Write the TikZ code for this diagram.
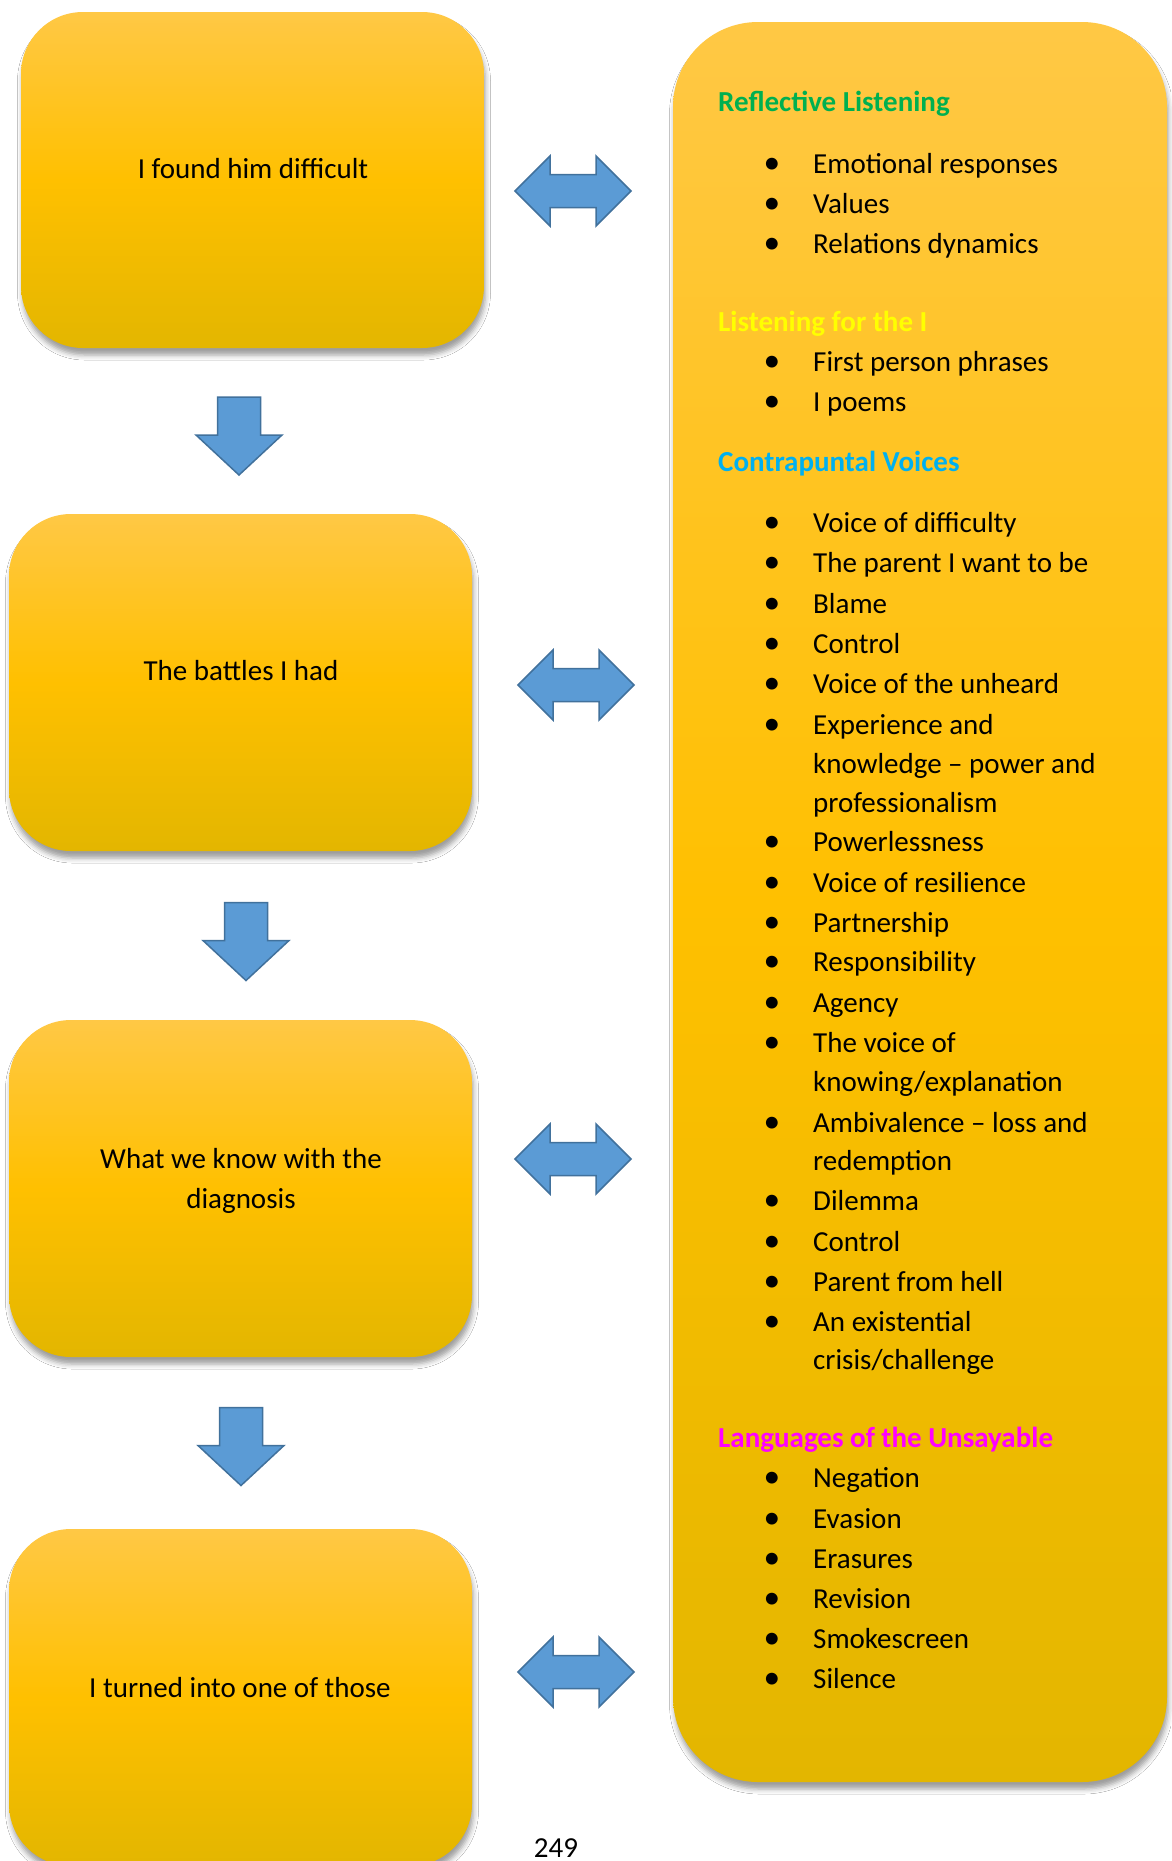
\documentclass[tikz,border=0pt]{standalone}
\usepackage{fontspec}
\setmainfont{Carlito}
\usetikzlibrary{shadows.blur}
\definecolor{goldtop}{HTML}{FFC845}
\definecolor{goldmid}{HTML}{FFC000}
\definecolor{goldbot}{HTML}{E3B600}
\definecolor{arrfill}{HTML}{5B9BD5}
\definecolor{arrline}{HTML}{41719C}
\definecolor{hgreen}{HTML}{00B050}
\definecolor{hyellow}{HTML}{FFFF00}
\definecolor{hcyan}{HTML}{00B0F0}
\definecolor{hmagenta}{HTML}{FF00FF}
\newcommand\rbul[3]{\node[bdot] (d#1) at (772,#2) {\textbullet};\node[itm] (t#1) at (813,#2) {#3};}
\newcommand\rcont[3]{\node[itm] (t#1) at (813,#2) {#3};}
\begin{document}
\begin{tikzpicture}[x=1pt,y=-1pt,
  goldbox/.style={rectangle, rounded corners=62pt, draw=none, inner sep=0pt,
    top color=goldtop, bottom color=goldbot, middle color=goldmid,
    blur shadow={shadow xshift=1.5pt, shadow yshift=-7pt, shadow blur radius=5pt, shadow opacity=38}},
  bigbox/.style={goldbox, rounded corners=85pt},
  blockarr/.style={fill=arrfill, draw=arrline, line width=1.5pt, line join=miter},
  lbl/.style={font=\fontsize{29}{40}\selectfont, align=center, inner sep=0pt, anchor=base},
  itm/.style={font=\fontsize{29}{35}\selectfont, inner sep=0pt, anchor=base west},
  hdr/.style={itm, font=\fontsize{29}{35}\selectfont\bfseries},
  bdot/.style={font=\fontsize{29}{35}\selectfont, inner sep=0pt, anchor=base, scale=1.15},
  downarr/.pic={\path[blockarr] (-21.5,-39) -- (21.5,-39) -- (21.5,-1) -- (43,-1) -- (0,39) -- (-43,-1) -- (-21.5,-1) -- cycle;},
  dblarr/.pic={\path[blockarr] (-58,0) -- (-23,-35) -- (-23,-16.5) -- (23,-16.5) -- (23,-35) -- (58,0) -- (23,35) -- (23,16.5) -- (-23,16.5) -- (-23,35) -- cycle;}
]
\useasboundingbox[fill=white] (0,0) rectangle (1171,1861);

% left boxes
\node[goldbox, minimum width=463pt, minimum height=336pt] (b1) at (252.5,180) {};
\node[goldbox, minimum width=463pt, minimum height=337pt] (b2) at (240.5,682.5) {};
\node[goldbox, minimum width=463pt, minimum height=337pt] (b3) at (240.5,1188.5) {};
\node[goldbox, minimum width=463pt, minimum height=337pt] (b4) at (240.5,1697.5) {};
\node[lbl] (l1) at (253,178) {I found him difficult};
\node[lbl] (l2) at (241,680) {The battles I had};
\node[lbl] (l3) at (241,1208) {What we know with the\\diagnosis};
\node[lbl] (l4) at (240,1697) {I turned into one of those};

% right box
\node[bigbox, minimum width=494pt, minimum height=1760pt] (rb) at (920,902) {};

% arrows
\pic (a1) at (239,436) {downarr};
\pic (a2) at (246,941.5) {downarr};
\pic (a3) at (241,1446.5) {downarr};
\pic (d1) at (573,191) {dblarr};
\pic (d2) at (576,685) {dblarr};
\pic (d3) at (573,1159) {dblarr};
\pic (d4) at (576,1672) {dblarr};

% right text
\node[hdr, text=hgreen] (h1) at (718,111) {Reflective Listening};
\rbul{1}{173}{Emotional responses}
\rbul{2}{213}{Values}
\rbul{3}{253}{Relations dynamics}
\node[hdr, text=hyellow] (h2) at (718,331) {Listening for the I};
\rbul{4}{371}{First person phrases}
\rbul{5}{411}{I poems}
\node[hdr, text=hcyan] (h3) at (718,471) {Contrapuntal Voices};
\rbul{6}{532}{Voice of difficulty}
\rbul{7}{572}{The parent I want to be}
\rbul{8}{613}{Blame}
\rbul{9}{653}{Control}
\rbul{10}{693}{Voice of the unheard}
\rbul{11}{734}{Experience and}
\rcont{12}{773}{knowledge – power and}
\rcont{13}{812}{professionalism}
\rbul{14}{851}{Powerlessness}
\rbul{15}{892}{Voice of resilience}
\rbul{16}{932}{Partnership}
\rbul{17}{971}{Responsibility}
\rbul{18}{1012}{Agency}
\rbul{19}{1052}{The voice of}
\rcont{20}{1091}{knowing/explanation}
\rbul{21}{1132}{Ambivalence – loss and}
\rcont{22}{1170}{redemption}
\rbul{23}{1210}{Dilemma}
\rbul{24}{1251}{Control}
\rbul{25}{1291}{Parent from hell}
\rbul{26}{1331}{An existential}
\rcont{27}{1369}{crisis/challenge}
\node[hdr, text=hmagenta] (h4) at (718,1447) {Languages of the Unsayable};
\rbul{28}{1487}{Negation}
\rbul{29}{1528}{Evasion}
\rbul{30}{1568}{Erasures}
\rbul{31}{1608}{Revision}
\rbul{32}{1648}{Smokescreen}
\rbul{33}{1688}{Silence}

\node[lbl] (pg) at (556,1857) {249};
\end{tikzpicture}
\end{document}
